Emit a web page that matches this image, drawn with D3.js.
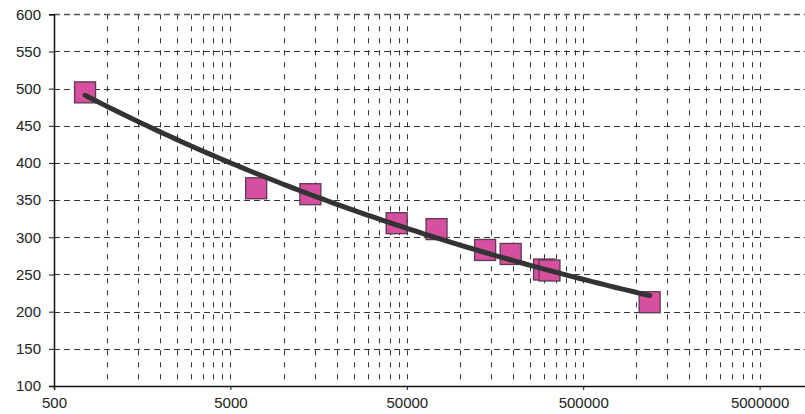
<!DOCTYPE html>
<html>
<head>
<meta charset="utf-8">
<script src="https://cdn.jsdelivr.net/npm/d3@7"></script>
<style>
  html, body { margin: 0; padding: 0; background: #fff; }
  svg { display: block; }
  text { font-family: "Liberation Sans", Arial, sans-serif; fill: #222; }
</style>
</head>
<body>
<svg id="chart" width="805" height="414"></svg>
<script>
// Measurements: x is on a log scale, y linear
const xValues = [750, 7000, 14200, 43800, 73700, 139000, 194000, 300000, 322000, 1190000];
const yValues = [495, 366, 358, 319, 311, 283, 277.6, 256.7, 255.4, 212.7];
const xTickLabels = [500, 5000, 50000, 500000, 5000000];
const yTickLabels = [100, 150, 200, 250, 300, 350, 400, 450, 500, 550, 600];

const svg = d3.select("#chart");
const plotLeft = 54, plotTop = 14.3, plotBottom = 386;
const decade = 176.4;

// The plot area runs on past the right edge of the picture
const x = d3.scaleLog().base(10).domain([500, 5e7]).range([plotLeft, plotLeft + 5 * decade]);
const y = d3.scaleLinear().domain([100, 600]).range([plotBottom, plotTop]);

const grid = svg.append("g");

// Minor/major vertical grid: k * 500 * 10^n for k = 2..10
const vLines = [];
for (let n = 0; n < 5; n++) {
  for (let k = 2; k <= 10; k++) vLines.push(k * 500 * Math.pow(10, n));
}
grid.selectAll("line.v").data(vLines).join("line")
  .attr("class", "v")
  .attr("x1", d => Math.round(x(d)) + 0.5).attr("x2", d => Math.round(x(d)) + 0.5)
  .attr("y1", y(600)).attr("y2", y(100))
  .attr("stroke", "#333").attr("stroke-width", 1)
  .attr("stroke-dasharray", "5,7");

// Horizontal grid
grid.selectAll("line.h").data(yTickLabels.slice(1)).join("line")
  .attr("class", "h")
  .attr("x1", plotLeft).attr("x2", 805)
  .attr("y1", d => Math.round(y(d)) + 0.5).attr("y2", d => Math.round(y(d)) + 0.5)
  .attr("stroke", d => d === 600 ? "#555" : "#333")
  .attr("stroke-width", d => d === 600 ? 1.6 : 1)
  .attr("stroke-dasharray", "6,4");

// Axes
const yAxis = d3.axisLeft(y).tickValues(yTickLabels).tickSize(5).tickPadding(8)
  .tickFormat(d3.format("d"));
const gy = svg.append("g").attr("transform", `translate(${plotLeft},0)`).call(yAxis);
gy.select(".domain").attr("stroke", "#111").attr("stroke-width", 1.5);
gy.selectAll(".tick line").attr("stroke", "#111");
gy.selectAll("text").style("font-size", "15px").attr("fill", "#222");

const xAxis = d3.axisBottom(x).tickValues(xTickLabels).tickSize(4).tickPadding(7)
  .tickFormat(d3.format("d"));
const gx = svg.append("g").attr("transform", `translate(0,${plotBottom})`).call(xAxis);
gx.select(".domain").attr("stroke", "#111").attr("stroke-width", 1.5);
gx.selectAll(".tick line").attr("stroke", "#111");
gx.selectAll("text").style("font-size", "15px").attr("fill", "#222");

// Power trend line fitted to the measurements (least squares in log-log space)
const lx = xValues.map(Math.log), ly = yValues.map(Math.log);
const mx = d3.mean(lx), my = d3.mean(ly);
const b = d3.sum(lx, (v, i) => (v - mx) * (ly[i] - my)) / d3.sum(lx, v => (v - mx) * (v - mx));
const a = Math.exp(my - b * mx);
const [x0, x1] = d3.extent(xValues);
const trend = d3.range(0, 101).map(i => {
  const xv = Math.exp(Math.log(x0) + (Math.log(x1) - Math.log(x0)) * i / 100);
  return [xv, a * Math.pow(xv, b)];
});

const pts = xValues.map((v, i) => ({ x: v, y: yValues[i] }));
const size = 21;

svg.append("g").selectAll("rect").data(pts).join("rect")
  .attr("x", d => x(d.x) - size / 2).attr("y", d => y(d.y) - size / 2)
  .attr("width", size).attr("height", size)
  .attr("fill", "#d6509f").attr("stroke", "#5b3a50").attr("stroke-width", 1.3);

svg.append("path").datum(trend)
  .attr("d", d3.line().x(d => x(d[0])).y(d => y(d[1])))
  .attr("fill", "none").attr("stroke", "#333").attr("stroke-width", 5)
  .attr("stroke-linecap", "round");
</script>
</body>
</html>
